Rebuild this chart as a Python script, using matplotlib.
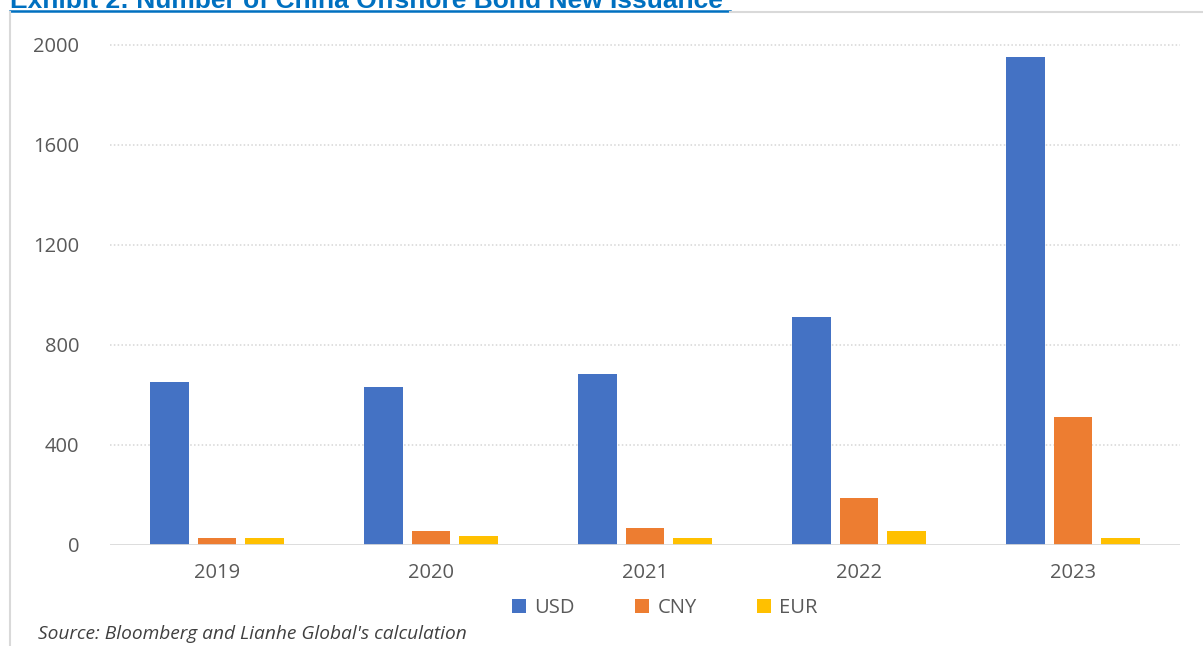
import numpy as np
import matplotlib.pyplot as plt
from matplotlib.lines import Line2D

# nombre de nouvelles emissions par devise
years = ["2019", "2020", "2021", "2022", "2023"]
usd = [652, 632, 684, 911, 1952]
cny = [27, 55, 68, 188, 511]
eur = [28, 36, 28, 57, 27]

series = [("USD", usd, "#4472C4"), ("CNY", cny, "#ED7D31"), ("EUR", eur, "#FFC000")]

plt.rcParams['font.family'] = ['Open Sans', 'DejaVu Sans']

fig = plt.figure(figsize=(12.03, 6.46), dpi=100)
ax = fig.add_axes([110 / 1203, 101 / 646, 1070 / 1203, 500 / 646])

x = np.arange(len(years))
largeur = 0.182
ecart = 0.22
handles = []
for k, (nom, vals, couleur) in enumerate(series):
    b = ax.bar(x + (k - 1) * ecart, vals, largeur, color=couleur, label=nom, zorder=3)
    handles.append(b)

ax.set_xlim(-0.5, 4.5)
ax.set_ylim(0, 2000)
ax.set_yticks([0, 400, 800, 1200, 1600, 2000])
ax.set_xticks(x)
ax.set_xticklabels(years)
ax.tick_params(axis='both', length=0, labelsize=14.5, colors='#595959')
ax.tick_params(axis='y', pad=22)
ax.tick_params(axis='x', pad=13)

# grille pointillee
for v in [400, 800, 1200, 1600, 2000]:
    ax.axhline(v, color='#D6D6D6', lw=1.1, ls=(0, (1, 1.5)), zorder=1, clip_on=False)
ax.axhline(0, color='#D9D9D9', lw=2, zorder=4)

for s in ax.spines.values():
    s.set_visible(False)

ax.legend(handles=handles, loc='center', bbox_to_anchor=(665 / 1203, 38 / 646),
          bbox_transform=fig.transFigure, ncol=3, frameon=False, fontsize=14.5,
          handlelength=0.7, handleheight=0.7, handletextpad=0.4,
          columnspacing=3.0, labelcolor='#595959')

# titre coupe en haut, souligne
fig.text(10 / 1203, 638 / 646, "Exhibit 2: Number of China Offshore Bond New Issuance",
         fontsize=19, fontweight='bold', color='#0070C0', family='Liberation Sans',
         ha='left', va='baseline')
fig.add_artist(Line2D([10 / 1203, 730 / 1203], [635 / 646, 635 / 646],
                      transform=fig.transFigure, color='#0070C0', lw=1.8))

# cadre gris
fig.add_artist(Line2D([730 / 1203, 1.0], [634 / 646, 634 / 646],
                      transform=fig.transFigure, color='#D9D9D9', lw=1.5))
fig.add_artist(Line2D([10 / 1203, 10 / 1203], [0, 634 / 646],
                      transform=fig.transFigure, color='#D9D9D9', lw=1.5))

fig.text(38 / 1203, 12 / 646, "Source: Bloomberg and Lianhe Global's calculation",
         fontsize=13.8, style='italic', color='#404040', ha='left', va='center')

fig.savefig("out.png", dpi=100)
